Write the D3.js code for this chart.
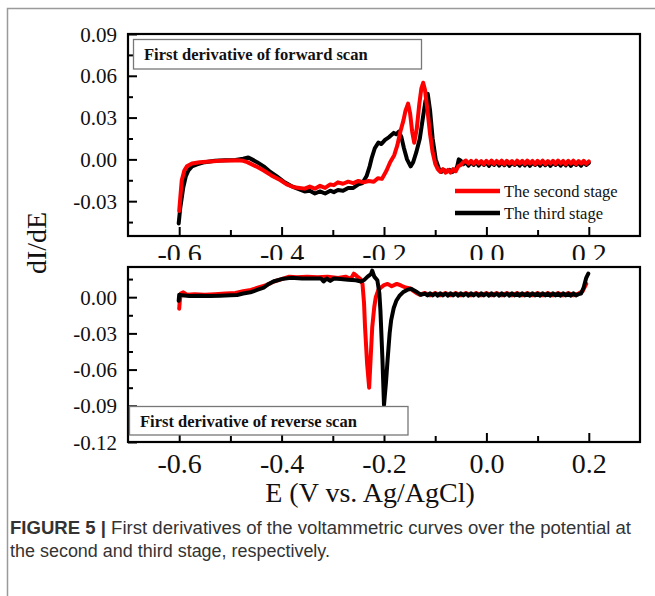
<!DOCTYPE html>
<html><head><meta charset="utf-8">
<script src="https://cdn.jsdelivr.net/npm/d3@7"></script>
<style>html,body{margin:0;padding:0;background:#fff;}svg{display:block;}</style>
</head><body>
<svg id="c" width="655" height="596"></svg>
<script>
// ---------- DATA ----------
const xTicks = [-0.6, -0.4, -0.2, 0.0, 0.2];
const xTickLabels = ["-0.6", "-0.4", "-0.2", "0.0", "0.2"];
const xMinor = [-0.5, -0.3, -0.1, 0.1];
const yTicksTop = [-0.03, 0.00, 0.03, 0.06, 0.09];
const yTickLabelsTop = ["-0.03", "0.00", "0.03", "0.06", "0.09"];
const yMinorTop = [-0.045, -0.015, 0.015, 0.045, 0.075];
const yTicksBot = [-0.12, -0.09, -0.06, -0.03, 0.00];
const yTickLabelsBot = ["-0.12", "-0.09", "-0.06", "-0.03", "0.00"];
const yMinorBot = [-0.105, -0.075, -0.045, -0.015, 0.015];
const seriesNames = ["The second stage", "The third stage"];
const seriesColors = ["#ff0000", "#000000"];

// forward scan, second stage  [E, dI/dE]
const fwdSecond = [
[-0.600,-0.037],[-0.598,-0.028],[-0.595,-0.015],[-0.590,-0.008],[-0.585,-0.005],[-0.575,-0.003],
[-0.560,-0.002],[-0.540,-0.0015],[-0.520,-0.001],[-0.500,-0.0008],[-0.487,-0.0007],[-0.475,-0.001],
[-0.467,-0.002],[-0.450,-0.005],[-0.435,-0.008],[-0.420,-0.0115],[-0.402,-0.015],[-0.390,-0.018],
[-0.376,-0.020],[-0.365,-0.0205],[-0.355,-0.021],[-0.345,-0.0195],[-0.335,-0.021],[-0.325,-0.019],
[-0.315,-0.0205],[-0.305,-0.018],[-0.298,-0.0185],[-0.290,-0.0165],[-0.280,-0.0175],[-0.270,-0.016],
[-0.260,-0.017],[-0.250,-0.0155],[-0.240,-0.0165],[-0.230,-0.0155],[-0.220,-0.016],[-0.212,-0.0135],
[-0.204,-0.014],[-0.195,-0.008],[-0.188,-0.002],[-0.180,0.003],[-0.174,0.010],[-0.168,0.020],
[-0.162,0.028],[-0.158,0.035],[-0.153,0.040],[-0.149,0.033],[-0.145,0.020],[-0.141,0.012],
[-0.136,0.022],[-0.131,0.040],[-0.127,0.051],[-0.1235,0.055],[-0.120,0.050],[-0.115,0.035],
[-0.110,0.018],[-0.105,0.005],[-0.100,-0.003],[-0.095,-0.007],[-0.090,-0.009],[-0.085,-0.007],
[-0.080,-0.0095],[-0.075,-0.0075],[-0.070,-0.0095],[-0.065,-0.007],[-0.060,-0.0085],[-0.055,-0.005],
[-0.050,-0.004],[-0.045,-0.002],[-0.040,-0.0008],[-0.035,-0.003],[-0.030,-0.001],[-0.025,-0.0032],
[-0.020,-0.0009],[-0.015,-0.003],[-0.010,-0.0012],[-0.005,-0.0034],[0.000,-0.001],[0.005,-0.003],
[0.010,-0.0008],[0.015,-0.0033],[0.020,-0.0011],[0.025,-0.003],[0.030,-0.0009],[0.035,-0.0035],
[0.040,-0.001],[0.045,-0.003],[0.050,-0.0012],[0.055,-0.0034],[0.060,-0.0009],[0.065,-0.003],
[0.070,-0.001],[0.075,-0.0033],[0.080,-0.0008],[0.085,-0.003],[0.090,-0.0011],[0.095,-0.0035],
[0.100,-0.001],[0.105,-0.003],[0.110,-0.0009],[0.115,-0.0034],[0.120,-0.0012],[0.125,-0.003],
[0.130,-0.001],[0.135,-0.0033],[0.140,-0.0008],[0.145,-0.003],[0.150,-0.0011],[0.155,-0.0035],
[0.160,-0.001],[0.165,-0.003],[0.170,-0.0009],[0.175,-0.0034],[0.180,-0.0012],[0.185,-0.003],
[0.190,-0.001],[0.195,-0.0032],[0.200,-0.0015]
];

// forward scan, third stage
const fwdThird = [
[-0.601,-0.046],[-0.598,-0.035],[-0.592,-0.020],[-0.587,-0.012],[-0.582,-0.008],[-0.575,-0.005],
[-0.565,-0.0036],[-0.550,-0.002],[-0.530,-0.001],[-0.510,-0.0006],[-0.490,-0.0004],[-0.475,0.0005],
[-0.465,0.0014],[-0.458,0.000],[-0.448,-0.002],[-0.435,-0.005],[-0.422,-0.009],[-0.410,-0.012],
[-0.396,-0.016],[-0.382,-0.019],[-0.369,-0.021],[-0.355,-0.023],[-0.345,-0.0225],[-0.335,-0.0245],
[-0.325,-0.023],[-0.315,-0.0245],[-0.305,-0.0225],[-0.298,-0.0235],[-0.290,-0.022],[-0.280,-0.0225],
[-0.270,-0.0205],[-0.260,-0.0205],[-0.250,-0.018],[-0.242,-0.017],[-0.234,-0.012],[-0.228,-0.005],
[-0.224,0.001],[-0.218,0.008],[-0.211,0.012],[-0.205,0.011],[-0.198,0.014],[-0.190,0.016],
[-0.181,0.019],[-0.176,0.018],[-0.171,0.020],[-0.166,0.016],[-0.161,0.008],[-0.155,0.000],
[-0.148,-0.005],[-0.143,-0.002],[-0.137,0.005],[-0.130,0.015],[-0.124,0.030],[-0.119,0.042],
[-0.1145,0.047],[-0.110,0.035],[-0.105,0.015],[-0.099,0.000],[-0.0925,-0.007],[-0.088,-0.009],
[-0.083,-0.0075],[-0.078,-0.009],[-0.072,-0.0075],[-0.066,-0.009],[-0.060,-0.0075],[-0.057,-0.005],
[-0.054,0.000],[-0.050,-0.001],[-0.045,-0.0035],[-0.040,-0.002],[-0.035,-0.0045],[-0.030,-0.002],
[-0.025,-0.004],[-0.020,-0.0018],[-0.015,-0.0045],[-0.010,-0.002],[-0.005,-0.004],[0.000,-0.0022],
[0.005,-0.0046],[0.010,-0.002],[0.015,-0.004],[0.020,-0.0019],[0.025,-0.0045],[0.030,-0.002],
[0.035,-0.0042],[0.040,-0.0018],[0.045,-0.0046],[0.050,-0.002],[0.055,-0.004],[0.060,-0.0021],
[0.065,-0.0045],[0.070,-0.002],[0.075,-0.0043],[0.080,-0.0019],[0.085,-0.0046],[0.090,-0.002],
[0.095,-0.004],[0.100,-0.0022],[0.105,-0.0045],[0.110,-0.002],[0.115,-0.0042],[0.120,-0.0019],
[0.125,-0.0046],[0.130,-0.002],[0.135,-0.004],[0.140,-0.0021],[0.145,-0.0045],[0.150,-0.002],
[0.155,-0.0043],[0.160,-0.0019],[0.165,-0.0046],[0.170,-0.002],[0.175,-0.004],[0.180,-0.0022],
[0.185,-0.0045],[0.190,-0.002],[0.195,-0.004],[0.200,-0.0025]
];

// reverse scan, second stage
const revSecond = [
[-0.600,-0.0095],[-0.599,-0.004],[-0.597,0.003],[-0.592,0.004],[-0.585,0.002],[-0.570,0.0025],
[-0.550,0.002],[-0.530,0.0025],[-0.510,0.003],[-0.490,0.0035],[-0.475,0.005],[-0.460,0.006],
[-0.445,0.008],[-0.430,0.010],[-0.415,0.013],[-0.400,0.015],[-0.385,0.017],[-0.370,0.0165],
[-0.350,0.017],[-0.330,0.0165],[-0.310,0.017],[-0.290,0.016],[-0.275,0.017],[-0.265,0.015],
[-0.259,0.0195],[-0.252,0.017],[-0.246,0.015],[-0.242,0.011],[-0.239,-0.005],[-0.237,-0.025],
[-0.233,-0.055],[-0.229,-0.075],[-0.226,-0.050],[-0.223,-0.025],[-0.219,-0.008],[-0.216,0.000],
[-0.211,0.006],[-0.206,0.008],[-0.200,0.010],[-0.193,0.011],[-0.185,0.009],[-0.175,0.011],
[-0.167,0.0097],[-0.158,0.008],[-0.150,0.0075],[-0.142,0.005],[-0.135,0.003],[-0.130,0.002],
[-0.120,0.0035],[-0.110,0.0015],[-0.100,0.0035],[-0.090,0.0015],[-0.080,0.0035],[-0.070,0.0015],
[-0.060,0.0035],[-0.050,0.0015],[-0.040,0.0035],[-0.030,0.0015],[-0.020,0.0035],[-0.010,0.0015],
[0.000,0.0035],[0.010,0.0015],[0.020,0.0035],[0.030,0.0015],[0.040,0.0035],[0.050,0.0015],
[0.060,0.0035],[0.070,0.0015],[0.080,0.0035],[0.090,0.0015],[0.100,0.0035],[0.110,0.0015],
[0.120,0.0035],[0.130,0.0015],[0.140,0.0035],[0.150,0.0015],[0.160,0.0035],[0.170,0.0015],
[0.180,0.003],[0.188,0.005],[0.195,0.011]
];

// reverse scan, third stage
const revThird = [
[-0.601,-0.003],[-0.600,0.002],[-0.595,0.0015],[-0.580,0.001],[-0.560,0.0012],[-0.540,0.001],
[-0.520,0.0012],[-0.500,0.0015],[-0.487,0.0018],[-0.475,0.003],[-0.461,0.004],[-0.448,0.006],
[-0.435,0.008],[-0.425,0.011],[-0.416,0.013],[-0.400,0.015],[-0.382,0.016],[-0.360,0.0155],
[-0.340,0.0155],[-0.323,0.0155],[-0.318,0.013],[-0.312,0.0155],[-0.305,0.0135],[-0.298,0.0155],
[-0.285,0.015],[-0.270,0.0145],[-0.255,0.014],[-0.245,0.013],[-0.238,0.0145],[-0.232,0.017],
[-0.2255,0.019],[-0.223,0.022],[-0.219,0.017],[-0.213,0.014],[-0.209,0.003],[-0.207,-0.011],
[-0.203,-0.052],[-0.200,-0.0895],[-0.196,-0.070],[-0.193,-0.052],[-0.189,-0.030],[-0.186,-0.019],
[-0.181,-0.009],[-0.176,-0.003],[-0.170,0.001],[-0.163,0.004],[-0.155,0.006],[-0.147,0.007],
[-0.141,0.0055],[-0.135,0.004],[-0.128,0.002],[-0.120,0.003],[-0.115,0.0015],[-0.110,0.0032],
[-0.105,0.0015],[-0.100,0.003],[-0.095,0.0013],[-0.090,0.0032],[-0.085,0.0015],[-0.080,0.003],
[-0.075,0.0013],[-0.070,0.0032],[-0.065,0.0015],[-0.060,0.003],[-0.055,0.0013],[-0.050,0.0032],
[-0.045,0.0015],[-0.040,0.003],[-0.035,0.0013],[-0.030,0.0032],[-0.025,0.0015],[-0.020,0.003],
[-0.015,0.0013],[-0.010,0.0032],[-0.005,0.0015],[0.000,0.003],[0.005,0.0013],[0.010,0.0032],
[0.015,0.0015],[0.020,0.003],[0.025,0.0013],[0.030,0.0032],[0.035,0.0015],[0.040,0.003],
[0.045,0.0013],[0.050,0.0032],[0.055,0.0015],[0.060,0.003],[0.065,0.0013],[0.070,0.0032],
[0.075,0.0015],[0.080,0.003],[0.085,0.0013],[0.090,0.0032],[0.095,0.0015],[0.100,0.003],
[0.105,0.0013],[0.110,0.0032],[0.115,0.0015],[0.120,0.003],[0.125,0.0013],[0.130,0.0032],
[0.135,0.0015],[0.140,0.003],[0.145,0.0013],[0.150,0.0032],[0.155,0.0015],[0.160,0.003],
[0.165,0.0013],[0.170,0.0032],[0.175,0.0015],[0.180,0.0025],[0.185,0.003],[0.190,0.008],
[0.195,0.016],[0.199,0.0195]
];

// ---------- DRAWING ----------
const svg = d3.select("#c");
const serif = "'Liberation Serif','Times New Roman',serif";

svg.append("rect").attr("x",7.5).attr("y",8.5).attr("width",700).attr("height",700)
  .attr("fill","none").attr("stroke","#9a9a9a").attr("stroke-width",1.5);

const x = d3.scaleLinear().domain([-0.7, 0.3]).range([128, 640]);
const yTop = d3.scaleLinear().domain([-0.055, 0.09]).range([236, 34]);
const yBot = d3.scaleLinear().domain([-0.12, 0.025]).range([442, 267]);

function panel(y, yTicks, yLabels, yMinor, top, bottom, series, order, xPad, backTop){
  const g = svg.append("g");
  if (backTop !== null) {
    g.append("rect").attr("x",60).attr("y",backTop).attr("width",590).attr("height",top-backTop)
      .attr("fill","#fff");
  }
  const clipId = "clip" + top;
  svg.append("clipPath").attr("id", clipId).append("rect")
    .attr("x",128).attr("y",top).attr("width",512).attr("height",bottom-top);
  const line = d3.line().x(d=>x(d[0])).y(d=>y(d[1]));
  const lg = g.append("g").attr("clip-path","url(#"+clipId+")");
  order.forEach(i=>{
    lg.append("path").datum(series[i]).attr("d",line).attr("fill","none")
      .attr("stroke",seriesColors[i]).attr("stroke-width",4)
      .attr("stroke-linejoin","round").attr("stroke-linecap","round");
  });
  const xa = g.append("g").attr("transform","translate(0,"+bottom+")")
    .call(d3.axisBottom(x).tickValues(xTicks).tickSize(-9).tickPadding(xPad)
      .tickFormat((d,i)=>xTickLabels[i]));
  xa.append("g").call(d3.axisBottom(x).tickValues(xMinor).tickSize(-6).tickFormat(""));
  const ya = g.append("g").attr("transform","translate(128,0)")
    .call(d3.axisLeft(y).tickValues(yTicks).tickSize(-9).tickPadding(11)
      .tickFormat((d,i)=>yLabels[i]));
  ya.append("g").call(d3.axisLeft(y).tickValues(yMinor).tickSize(-5).tickFormat(""));
  g.selectAll(".domain").remove();
  g.selectAll(".tick line").attr("stroke","#000").attr("stroke-width",2);
  xa.selectAll(".tick text").attr("font-family",serif).attr("font-size",28).attr("fill","#111")
    .attr("dy","0");
  ya.selectAll(".tick text").attr("font-family",serif).attr("font-size",21).attr("fill","#111")
    .attr("dy","0.34em");
  g.append("rect").attr("x",128).attr("y",top).attr("width",512).attr("height",bottom-top)
    .attr("fill","none").attr("stroke","#000").attr("stroke-width",2.2);
  return g;
}

const gTop = panel(yTop, yTicksTop, yTickLabelsTop, yMinorTop, 34, 236, [fwdSecond, fwdThird], [1,0], 27, null);
const gBot = panel(yBot, yTicksBot, yTickLabelsBot, yMinorBot, 267, 442, [revSecond, revThird], [0,1], 31, 260);

function titleBox(g, x0, y0, w, h, tx, ty, txt){
  g.append("rect").attr("x",x0).attr("y",y0).attr("width",w).attr("height",h)
    .attr("fill","#fff").attr("stroke","#777").attr("stroke-width",1.3);
  g.append("text").attr("x",tx).attr("y",ty).attr("font-family",serif).attr("font-weight","bold")
    .attr("font-size",16.5).attr("fill","#111").text(txt);
}
titleBox(gTop, 133.5, 39.5, 288, 29.5, 144, 60, "First derivative of forward scan");
titleBox(gBot, 129.5, 406.5, 278.5, 28.5, 140, 427, "First derivative of reverse scan");

const leg = gTop.append("g");
[0,1].forEach(i=>{
  const yy = 191 + i*22;
  leg.append("line").attr("x1",455).attr("x2",500).attr("y1",yy).attr("y2",yy)
    .attr("stroke",seriesColors[i]).attr("stroke-width",4.5);
  leg.append("text").attr("x",504).attr("y",yy+6).attr("font-family",serif)
    .attr("font-size",16.5).attr("fill","#111").text(seriesNames[i]);
});

svg.append("text").attr("x",370).attr("y",502).attr("text-anchor","middle")
  .attr("font-family",serif).attr("font-size",28).attr("fill","#111").text("E (V vs. Ag/AgCl)");
svg.append("text").attr("transform","translate(46,243) rotate(-90)").attr("text-anchor","middle")
  .attr("font-family",serif).attr("font-size",28).attr("fill","#111").text("dI/dE");

const sans = "'Liberation Sans',Arial,sans-serif";
const cap1 = svg.append("text").attr("x",10).attr("y",534).attr("font-family",sans)
  .attr("font-size",17.5).attr("fill","#333").attr("textLength",621).attr("lengthAdjust","spacingAndGlyphs");
cap1.append("tspan").attr("font-weight","bold").text("FIGURE 5 | ");
cap1.append("tspan").text("First derivatives of the voltammetric curves over the potential at");
svg.append("text").attr("x",10).attr("y",557).attr("font-family",sans)
  .attr("font-size",17.5).attr("fill","#333").attr("textLength",320).attr("lengthAdjust","spacingAndGlyphs")
  .text("the second and third stage, respectively.");
</script>
</body></html>
